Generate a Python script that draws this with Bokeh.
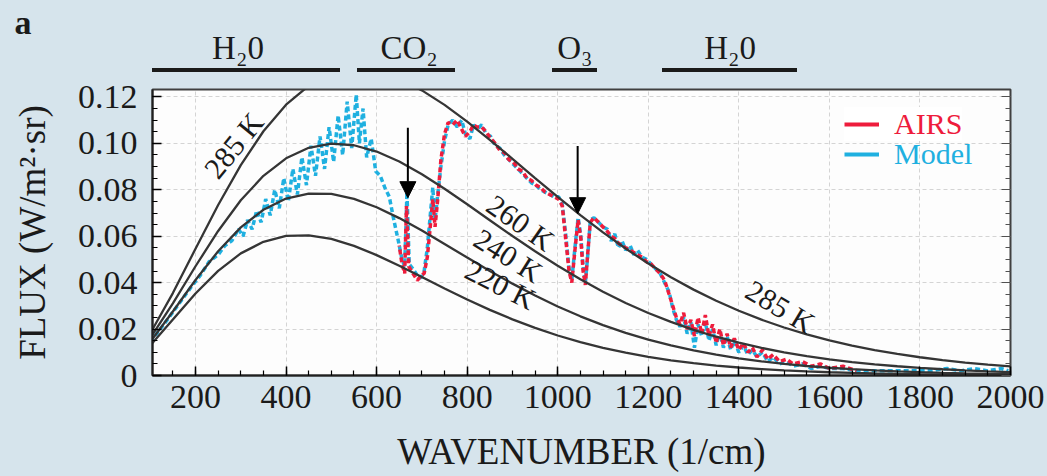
from bokeh.plotting import figure
from bokeh.layouts import column
from bokeh.models import (Range1d, FixedTicker, LinearAxis, Label, Arrow, NormalHead,
                          Legend, LegendItem, CustomJSTickFormatter, Div)
from bokeh.embed import file_html
from bokeh.resources import INLINE

# ---------------- data ----------------
wavenumber = [100, 150, 200, 250, 300, 350, 400, 450, 500, 550, 600, 650, 700, 750,
              800, 850, 900, 950, 1000, 1050, 1100, 1150, 1200, 1250, 1300, 1350,
              1400, 1450, 1500, 1550, 1600, 1650, 1700, 1750, 1800, 1850, 1900, 1950, 2000]

flux_220K = [0.01290, 0.02411, 0.03530, 0.04507, 0.05260, 0.05760, 0.06011, 0.06039,
             0.05882, 0.05584, 0.05187, 0.04728, 0.04242, 0.03751, 0.03275, 0.02828,
             0.02418, 0.02049, 0.01723, 0.01437, 0.01191, 0.00981, 0.00804, 0.00655,
             0.00531, 0.00429, 0.00345, 0.00276, 0.00221, 0.00175, 0.00139, 0.00110,
             0.00087, 0.00068, 0.00054, 0.00042, 0.00033, 0.00026, 0.00020]
flux_240K = [0.01450, 0.02757, 0.04113, 0.05353, 0.06380, 0.07140, 0.07622, 0.07838,
             0.07821, 0.07610, 0.07249, 0.06780, 0.06242, 0.05666, 0.05081, 0.04506,
             0.03957, 0.03445, 0.02975, 0.02550, 0.02172, 0.01838, 0.01547, 0.01295,
             0.01080, 0.00896, 0.00740, 0.00609, 0.00500, 0.00409, 0.00333, 0.00271,
             0.00219, 0.00177, 0.00143, 0.00115, 0.00092, 0.00074, 0.00059]
flux_260K = [0.01611, 0.03107, 0.04706, 0.06226, 0.07548, 0.08601, 0.09355, 0.09810,
             0.09986, 0.09918, 0.09647, 0.09217, 0.08670, 0.08045, 0.07375, 0.06689,
             0.06007, 0.05349, 0.04725, 0.04143, 0.03610, 0.03126, 0.02692, 0.02307,
             0.01967, 0.01670, 0.01412, 0.01190, 0.00999, 0.00835, 0.00697, 0.00579,
             0.00481, 0.00398, 0.00328, 0.00270, 0.00222, 0.00182, 0.00149]
flux_285K = [0.01814, 0.03550, 0.05461, 0.07347, 0.09065, 0.10522, 0.11667, 0.12479,
             0.12967, 0.13153, 0.13073, 0.12769, 0.12283, 0.11659, 0.10937, 0.10151,
             0.09333, 0.08507, 0.07695, 0.06911, 0.06166, 0.05469, 0.04825, 0.04234,
             0.03699, 0.03217, 0.02787, 0.02405, 0.02068, 0.01773, 0.01515, 0.01291,
             0.01097, 0.00929, 0.00786, 0.00663, 0.00558, 0.00468, 0.00393]

model_wn = [100, 130, 160, 190, 210, 230, 250, 265, 280, 295, 305, 315, 325, 335, 345,
            355, 365, 375, 385, 395, 405, 415, 425, 435, 445, 455, 465, 475, 485, 495,
            505, 515, 525, 535, 545, 555, 562, 570, 578, 588, 598, 608, 618, 628, 638,
            648, 656, 662, 667, 672, 680, 690, 698, 705, 712, 718, 724, 729, 735, 742,
            750, 758, 768, 778, 788, 796, 806, 814, 822, 832, 842, 852, 862, 872, 882,
            892, 902, 912, 922, 932, 942, 952, 962, 972, 982, 992, 1002, 1010, 1018,
            1025, 1031, 1038, 1045, 1051, 1056, 1061, 1066, 1072, 1080, 1090, 1100,
            1110, 1118, 1126, 1134, 1142, 1150, 1160, 1168, 1176, 1186, 1196, 1206,
            1216, 1226, 1236, 1246, 1254, 1262, 1270, 1278, 1286, 1294, 1302, 1310,
            1318, 1326, 1334, 1342, 1350, 1358, 1366, 1374, 1382, 1390, 1400, 1410,
            1420, 1430, 1440, 1452, 1464, 1476, 1490, 1505, 1520, 1540, 1560, 1580,
            1600, 1630, 1660, 1700, 1740, 1780, 1820, 1860, 1890, 1920, 1950, 1980, 1995]
model_flux = [0.0145, 0.022, 0.030, 0.038, 0.043, 0.049, 0.052, 0.056, 0.058, 0.063,
              0.060, 0.067, 0.063, 0.071, 0.066, 0.076, 0.069, 0.080, 0.072, 0.085,
              0.075, 0.089, 0.078, 0.094, 0.082, 0.099, 0.086, 0.103, 0.089, 0.107,
              0.092, 0.112, 0.095, 0.118, 0.098, 0.121, 0.100, 0.115, 0.094, 0.102,
              0.088, 0.086, 0.081, 0.077, 0.067, 0.058, 0.050, 0.047, 0.079, 0.048,
              0.046, 0.043, 0.042, 0.045, 0.055, 0.068, 0.081, 0.067, 0.078, 0.090,
              0.101, 0.108, 0.110, 0.107, 0.110, 0.104, 0.102, 0.108, 0.106, 0.108,
              0.104, 0.103, 0.099, 0.098, 0.095, 0.093, 0.091, 0.089, 0.087, 0.085,
              0.083, 0.082, 0.080, 0.079, 0.078, 0.077, 0.077, 0.074, 0.060, 0.046,
              0.041, 0.055, 0.068, 0.060, 0.047, 0.040, 0.051, 0.067, 0.068, 0.066,
              0.064, 0.063, 0.058, 0.061, 0.055, 0.058, 0.054, 0.056, 0.052, 0.054,
              0.051, 0.050, 0.048, 0.046, 0.044, 0.040, 0.036, 0.029, 0.024, 0.021,
              0.025, 0.018, 0.023, 0.012, 0.022, 0.017, 0.023, 0.015, 0.020, 0.013,
              0.019, 0.012, 0.017, 0.011, 0.015, 0.010, 0.013, 0.009, 0.011, 0.008,
              0.010, 0.006, 0.008, 0.005, 0.006, 0.004, 0.005, 0.003, 0.004, 0.003,
              0.003, 0.002, 0.002, 0.002, 0.002, 0.002, 0.003, 0.002, 0.003, 0.002,
              0.003, 0.002]

airs_wn = [650, 656, 662, 666, 671, 680, 690, 698, 705, 712, 718, 724, 729, 735, 742,
           750, 758, 768, 778, 788, 796, 806, 814, 822, 832, 842, 852, 862, 872, 882,
           892, 902, 912, 922, 932, 942, 952, 962, 972, 982, 992, 1002, 1010, 1018,
           1025, 1031, 1038, 1045, 1051, 1056, 1061, 1066, 1072, 1080, 1090, 1100,
           1110, 1118, 1126, 1134, 1142, 1150, 1160, 1168, 1176, 1186, 1196, 1206,
           1216, 1226, 1236, 1246, 1254, 1262, 1270, 1278, 1286, 1294, 1302, 1310,
           1318, 1326, 1334, 1342, 1350, 1358, 1366, 1374, 1382, 1390, 1400, 1410,
           1420, 1430, 1440, 1452, 1464, 1476, 1490, 1505, 1520, 1540, 1560, 1580,
           1600, 1630, 1660]
airs_flux = [0.056, 0.048, 0.044, 0.073, 0.047, 0.044, 0.041, 0.043, 0.044, 0.051,
             0.063, 0.076, 0.064, 0.076, 0.093, 0.104, 0.109, 0.108, 0.110, 0.106,
             0.103, 0.105, 0.108, 0.107, 0.107, 0.105, 0.102, 0.100, 0.097, 0.096,
             0.093, 0.092, 0.089, 0.088, 0.085, 0.084, 0.082, 0.081, 0.079, 0.078,
             0.077, 0.076, 0.073, 0.058, 0.045, 0.040, 0.054, 0.067, 0.059, 0.045,
             0.039, 0.052, 0.066, 0.068, 0.066, 0.064, 0.062, 0.060, 0.059, 0.057,
             0.056, 0.055, 0.054, 0.053, 0.052, 0.051, 0.049, 0.048, 0.046, 0.044,
             0.041, 0.035, 0.030, 0.025, 0.022, 0.027, 0.020, 0.024, 0.017, 0.025,
             0.018, 0.026, 0.017, 0.022, 0.014, 0.020, 0.013, 0.018, 0.012, 0.016,
             0.011, 0.014, 0.010, 0.012, 0.008, 0.011, 0.007, 0.009, 0.006, 0.007,
             0.005, 0.006, 0.004, 0.005, 0.003, 0.004, 0.002]

x_ticks = [200, 400, 600, 800, 1000, 1200, 1400, 1600, 1800, 2000]
y_ticks = [0, 0.02, 0.04, 0.06, 0.08, 0.10, 0.12]
y_tick_labels = ["0", "0.02", "0.04", "0.06", "0.08", "0.10", "0.12"]

curve_labels = ["285 K", "260 K", "240 K", "220 K", "285 K"]
curve_label_x = [284, 918, 891, 874, 1492]
curve_label_y = [0.0991, 0.0659, 0.0517, 0.0392, 0.0297]
curve_label_angle = [0.89, -0.61, -0.56, -0.47, -0.54]

band_names = ["H\u20820", "CO\u2082", "O\u2083", "H\u20820"]
band_start = [105, 558, 988, 1231]
band_end = [520, 774, 1088, 1530]
band_center = [295, 673, 1039, 1382]

arrow_x = [669, 1044]
arrow_top = [0.1067, 0.0989]
arrow_tip = [0.0766, 0.0697]

panel_letter = "a"

# ---------------- styling ----------------
SERIF = "Liberation Serif"
BG = "#d6e4ec"
AIRS_COLOR = "#ee1c3c"
MODEL_COLOR = "#1fb0e0"
CURVE_COLOR = "#353535"
TEXT = "#1a1a1a"

W = 1047
TOP_H = 74
MAIN_H = 402
X0, X1 = 105, 2000
LEFT, RIGHT = 152, 37            # frame borders of the main plot (px)
px_per_unit = (W - LEFT - RIGHT) / (X1 - X0)


def to_px(x):
    return LEFT + (x - X0) * px_per_unit


# ---------------- top strip: panel letter and absorber bands (HTML) ----------------
parts = [f'<div style="position:relative;width:{W}px;height:{TOP_H}px;background:{BG};'
         f'font-family:\'{SERIF}\';color:{TEXT};overflow:hidden;margin:0;padding:0;">']
parts.append('<span style="position:absolute;left:3px;top:6px;width:40px;'
             'text-align:center;font-size:34px;font-weight:bold;line-height:1;">'
             f'{panel_letter}</span>')
for name, x0, x1, xc in zip(band_names, band_start, band_end, band_center):
    l, r = to_px(x0), to_px(x1)
    parts.append(f'<div style="position:absolute;left:{l:.1f}px;top:68px;'
                 f'width:{r - l:.1f}px;height:4px;background:#1a1a1a;"></div>')
    c = to_px(xc)
    parts.append(f'<span style="position:absolute;left:{c - 70:.1f}px;top:32px;'
                 'width:140px;text-align:center;font-size:33px;line-height:1;'
                 f'white-space:nowrap;">{name}</span>')
parts.append('</div>')
top = Div(text="".join(parts), width=W, height=TOP_H, margin=(0, 0, 0, 0),
          styles={"background-color": BG, "margin": "0", "padding": "0"})

# ---------------- main plot ----------------
p = figure(width=W, height=MAIN_H, output_backend="svg", toolbar_location=None,
           x_range=Range1d(X0, X1), y_range=Range1d(0, 0.1232),
           min_border_left=LEFT, min_border_right=RIGHT, min_border_top=89 - TOP_H,
           min_border_bottom=101, margin=(0, 0, 0, 0))
p.border_fill_color = BG
p.background_fill_color = "#fdfdfd"
p.outline_line_color = "#404040"
p.outline_line_width = 2

x_minor = list(range(100, 2001, 50))
y_minor = [i * 0.005 for i in range(25)]
p.xaxis.ticker = FixedTicker(ticks=x_ticks, minor_ticks=x_minor)
p.yaxis.ticker = FixedTicker(ticks=y_ticks, minor_ticks=y_minor)
p.yaxis.major_label_overrides = {t: s for t, s in zip(y_ticks, y_tick_labels)}
p.xaxis.axis_label = "WAVENUMBER (1/cm)"
p.yaxis.axis_label = "FLUX (W/m\u00b2\u00b7sr)"

for ax in [p.xaxis[0], p.yaxis[0]]:
    ax.major_tick_in = 9
    ax.major_tick_out = 0
    ax.minor_tick_in = 5
    ax.minor_tick_out = 0
    ax.axis_line_width = 2
    ax.axis_line_color = "#202020"
    ax.major_tick_line_width = 1.5
    ax.minor_tick_line_width = 1.2
    ax.major_label_text_font = SERIF
    ax.major_label_text_font_size = "34px"
    ax.major_label_text_color = TEXT
    ax.axis_label_text_font = SERIF
    ax.axis_label_text_font_size = "37px"
    ax.axis_label_text_font_style = "normal"
    ax.axis_label_text_color = TEXT
p.xaxis.major_label_standoff = 10
p.xaxis.axis_label_standoff = 20
p.yaxis.major_label_standoff = 15
p.yaxis.axis_label_standoff = 22

rax = LinearAxis(ticker=FixedTicker(ticks=y_ticks, minor_ticks=y_minor),
                 formatter=CustomJSTickFormatter(code="return ''"),
                 major_tick_in=9, major_tick_out=0, minor_tick_in=5, minor_tick_out=0,
                 axis_line_color=None, major_label_standoff=0,
                 major_tick_line_color="#505050", minor_tick_line_color="#505050")
p.add_layout(rax, "right")

p.xgrid.grid_line_color = "#d4d4d4"
p.ygrid.grid_line_color = "#d4d4d4"
p.xgrid.grid_line_dash = "4 3"
p.ygrid.grid_line_dash = "4 3"

# spectra
r_model = p.line(model_wn, model_flux, line_color=MODEL_COLOR, line_width=3.5,
                 line_dash="5 3")
r_airs = p.line(airs_wn, airs_flux, line_color=AIRS_COLOR, line_width=3.5,
                line_dash="5 3", line_dash_offset=4)

# blackbody curves
for vals in [flux_285K, flux_260K, flux_240K, flux_220K]:
    p.line(wavenumber, vals, line_color=CURVE_COLOR, line_width=2.3)

for t, x, y, a in zip(curve_labels, curve_label_x, curve_label_y, curve_label_angle):
    p.add_layout(Label(x=x, y=y, text=t, angle=a, text_align="center",
                       text_baseline="middle", text_font=SERIF, text_font_size="30px",
                       text_color=TEXT))

for x0, ytop, ytip in zip(arrow_x, arrow_top, arrow_tip):
    p.add_layout(Arrow(x_start=x0, y_start=ytop, x_end=x0, y_end=ytip,
                       line_color="black", line_width=2,
                       end=NormalHead(size=16, fill_color="black", line_color="black")))

# legends (one per colour, solid line samples)
leg_airs = p.line(x=airs_wn[:1], y=airs_flux[:1], line_color=AIRS_COLOR, line_width=4)
leg_model = p.line(x=model_wn[:1], y=model_flux[:1], line_color=MODEL_COLOR, line_width=4)
for r, lab, col, yloc, bg in [(leg_airs, "AIRS", AIRS_COLOR, 234, 1.0),
                              (leg_model, "Model", MODEL_COLOR, 204, 0.0)]:
    lg = Legend(items=[LegendItem(label=lab, renderers=[r])], location=(692, yloc),
                glyph_width=35, glyph_height=20, label_height=20, padding=4, margin=0,
                spacing=0, label_standoff=15, label_text_font=SERIF,
                label_text_font_size="30px", label_text_color=col,
                border_line_color=None, background_fill_color="white",
                background_fill_alpha=bg)
    p.add_layout(lg)

layout = column(top, p, spacing=0, styles={"background-color": BG})
open("out.html", "w").write(file_html(layout, INLINE))
